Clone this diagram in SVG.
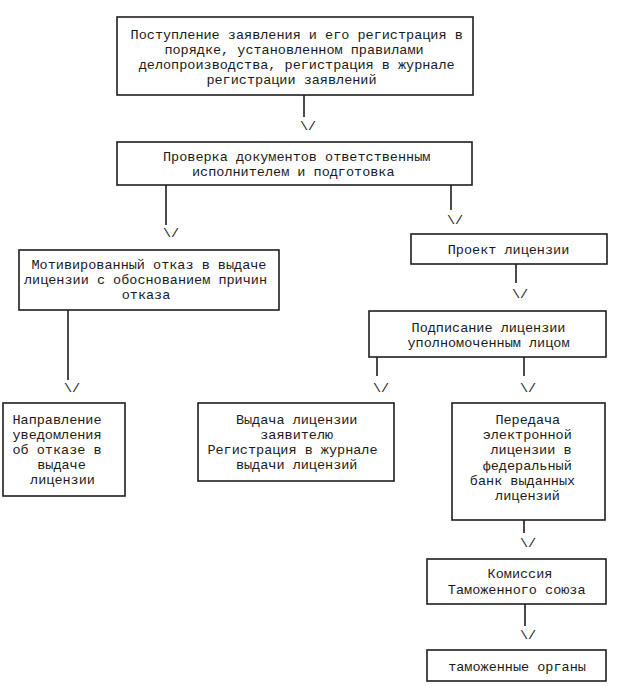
<svg xmlns="http://www.w3.org/2000/svg" width="617" height="686" viewBox="0 0 617 686">
<style>
.box{fill:#fff;stroke:#1e1e1e;stroke-width:1.6}
.t{font-family:"Liberation Mono","Courier New",monospace;font-size:13.5px;fill:#1a1a1a;text-anchor:middle}
.c{stroke:#1e1e1e;stroke-width:1.6;fill:none}
.a{font-family:"Liberation Mono","Courier New",monospace;font-size:13.5px;fill:#1a1a1a;text-anchor:middle}
</style>
<rect width="617" height="686" fill="#fff"/>
<g id="connectors">
<line class="c" x1="304" y1="95" x2="304" y2="117"/><text class="a" x="308" y="130">\/</text>
<line class="c" x1="166" y1="185" x2="166" y2="225"/><text class="a" x="171" y="237">\/</text>
<line class="c" x1="451" y1="185" x2="451" y2="210"/><text class="a" x="455" y="224">\/</text>
<line class="c" x1="516" y1="264" x2="516" y2="283"/><text class="a" x="520" y="298">\/</text>
<line class="c" x1="377" y1="357" x2="377" y2="376"/><text class="a" x="381" y="392">\/</text>
<line class="c" x1="524" y1="357" x2="524" y2="376"/><text class="a" x="528" y="392">\/</text>
<line class="c" x1="68" y1="310" x2="68" y2="380"/><text class="a" x="72" y="392">\/</text>
<line class="c" x1="524" y1="520" x2="524" y2="533"/><text class="a" x="528" y="547">\/</text>
<line class="c" x1="525" y1="604" x2="525" y2="626"/><text class="a" x="528" y="639">\/</text>
</g>
<g id="n1">
<rect class="box" x="117" y="17" width="356" height="78"/>
<text class="t" x="296.7" y="38.5">Поступление заявления и его регистрация в</text>
<text class="t" x="294" y="53.7">порядке, установленном правилами</text>
<text class="t" x="296.7" y="68.9">делопроизводства, регистрация в журнале</text>
<text class="t" x="291.5" y="84.1">регистрации заявлений</text>
</g>
<g id="n2">
<rect class="box" x="117" y="142" width="355" height="43"/>
<text class="t" x="296.7" y="160.5">Проверка документов ответственным</text>
<text class="t" x="293.3" y="176">исполнителем и подготовка</text>
</g>
<g id="n3">
<rect class="box" x="19" y="250" width="260" height="60"/>
<text class="t" x="149" y="268.5">Мотивированный отказ в выдаче</text>
<text class="t" x="145.5" y="283.5">лицензии с обоснованием причин</text>
<text class="t" x="146" y="298.5">отказа</text>
</g>
<g id="n4">
<rect class="box" x="411" y="234" width="196" height="30"/>
<text class="t" x="508.5" y="253.5">Проект лицензии</text>
</g>
<g id="n5">
<rect class="box" x="369" y="311" width="237" height="46"/>
<text class="t" x="488.5" y="331.5">Подписание лицензии</text>
<text class="t" x="488.5" y="346.5">уполномоченным лицом</text>
</g>
<g id="n6">
<rect class="box" x="3" y="403" width="122" height="93"/>
<text class="t" x="57" y="423.5">Направление</text>
<text class="t" x="57" y="438.5">уведомления</text>
<text class="t" x="57" y="453.7">об отказе в</text>
<text class="t" x="61.5" y="469">выдаче</text>
<text class="t" x="62.5" y="484.3">лицензии</text>
</g>
<g id="n7">
<rect class="box" x="198" y="403" width="196" height="78"/>
<text class="t" x="296.7" y="423.5">Выдача лицензии</text>
<text class="t" x="296.7" y="438.5">заявителю</text>
<text class="t" x="292.5" y="453.7">Регистрация в журнале</text>
<text class="t" x="296.7" y="469">выдачи лицензий</text>
</g>
<g id="n8">
<rect class="box" x="452" y="403" width="153" height="117"/>
<text class="t" x="527.8" y="423.5">Передача</text>
<text class="t" x="527.2" y="439">электронной</text>
<text class="t" x="531" y="454">лицензии в</text>
<text class="t" x="527.2" y="469.5">федеральный</text>
<text class="t" x="522.5" y="484.5">банк выданных</text>
<text class="t" x="527.5" y="499.5">лицензий</text>
</g>
<g id="n9">
<rect class="box" x="427" y="559" width="179" height="45"/>
<text class="t" x="520" y="577.5">Комиссия</text>
<text class="t" x="516.7" y="593.5">Таможенного союза</text>
</g>
<g id="n10">
<rect class="box" x="427" y="650" width="179" height="31"/>
<text class="t" x="517" y="671">таможенные органы</text>
</g>
</svg>
